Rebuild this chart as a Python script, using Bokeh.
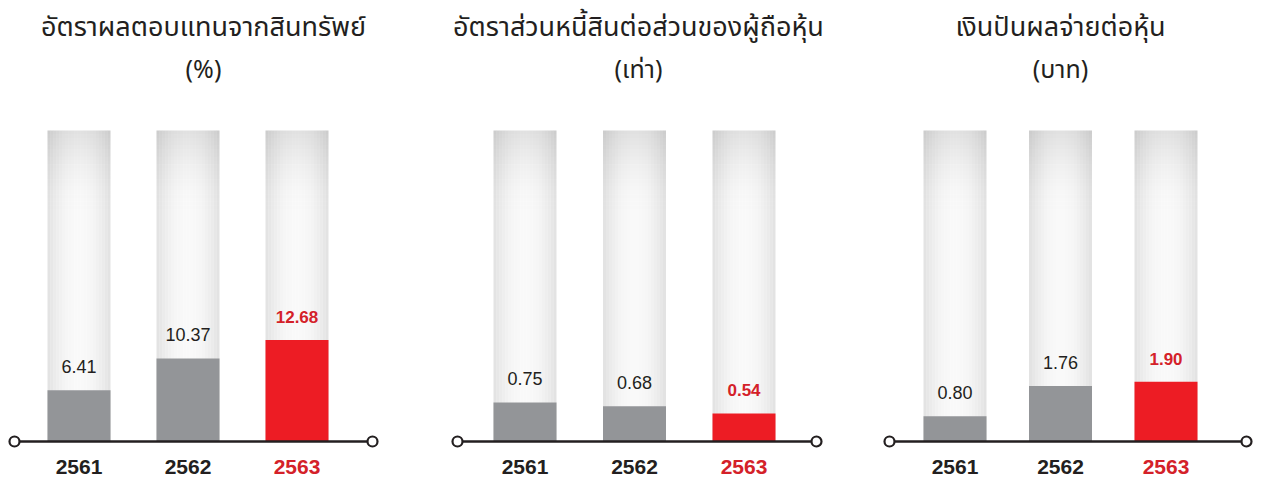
from bokeh.plotting import figure
from bokeh.layouts import row
from bokeh.models import Range1d, Label, ColumnDataSource
from bokeh.core.properties import value
from bokeh.embed import file_html
from bokeh.resources import INLINE

# ---------------- data ----------------
years = ["2561", "2562", "2563"]
roa_values = [6.41, 10.37, 12.68]
de_values = [0.75, 0.68, 0.54]
dps_values = [0.80, 1.76, 1.90]
title_line1 = ["อัตราผลตอบแทนจากสินทรัพย์",
               "อัตราส่วนหนี้สินต่อส่วนของผู้ถือหุ้น",
               "เงินปันผลจ่ายต่อหุ้น"]
title_line2 = ["(%)", "(เท่า)", "(บาท)"]
series = [roa_values, de_values, dps_values]

# ---------------- styling ----------------
GRAY = "#939598"
RED = "#ED1C24"
RED_TXT = "#D42129"
DARK = "#231F20"
THAI_FONT = "Noto Sans Thai, Noto Sans, sans-serif"
NUM_FONT = "Liberation Sans, Arial, sans-serif"
YEAR_FONT = "Liberation Sans Narrow, Liberation Sans, Arial, sans-serif"

H = 479          # figure height (px)
BASE = 38        # baseline distance from figure bottom (px)
TRACK = 311      # background column height (px)
BAR_PX = 63      # bar width (px)

layout = [
    dict(width=433, c0=78.5, step=109.0, ax=(14, 372), ppu=8.0, tc=203),
    dict(width=430, c0=91.5, step=109.5, ax=(24, 383), ppu=52.0, tc=205),
    dict(width=398, c0=91.5, step=105.5, ax=(26, 383), ppu=31.5, tc=197),
]


def make_panel(vals, t1, t2, L):
    step, ppu = L["step"], L["ppu"]
    x0 = -L["c0"] / step
    x1 = x0 + L["width"] / step
    y0 = -BASE / ppu
    y1 = y0 + H / ppu
    p = figure(width=L["width"], height=H, x_range=Range1d(x0, x1),
               y_range=Range1d(y0, y1), output_backend="svg",
               toolbar_location=None, min_border=0, outline_line_color=None)
    p.axis.visible = False
    p.grid.visible = False
    p.background_fill_color = "white"
    p.border_fill_color = "white"

    idx = list(range(len(years)))
    bw = BAR_PX / step
    top = TRACK / ppu

    # background track gradient (horizontal)
    NS = 21
    L_, R_, B_, T_, C_ = [], [], [], [], []
    for i in idx:
        for k in range(NS):
            d = ((k + 0.5) / NS - 0.5) * 2
            shade = int(round(249 - 24 * d * d))
            left = i - bw / 2 + k * bw / NS
            L_.append(left)
            R_.append(left + bw / NS * 1.08 if k < NS - 1 else left + bw / NS)
            B_.append(0)
            T_.append(top)
            C_.append("#%02x%02x%02x" % (shade, shade, shade))
    p.quad(left=L_, right=R_, bottom=B_, top=T_, fill_color=C_, line_color=None)

    # top shading (vertical)
    NB = 24
    band_px = 90
    L_, R_, B_, T_, A_ = [], [], [], [], []
    for i in idx:
        for k in range(NB):
            f = (k + 0.5) / NB
            a = 0.10 * (1 - f) ** 2
            L_.append(i - bw / 2)
            R_.append(i + bw / 2)
            T_.append(top - k * band_px / NB / ppu)
            B_.append(top - (k + 1) * band_px / NB / ppu)
            A_.append(a)
    p.quad(left=L_, right=R_, bottom=B_, top=T_, fill_color="black",
           fill_alpha=A_, line_color=None)

    colors = [GRAY] * (len(vals) - 1) + [RED]
    src = ColumnDataSource(dict(x=idx, top=vals, color=colors))
    p.vbar(x="x", top="top", bottom=0, width=bw, fill_color="color",
           line_color=None, source=src)

    # value labels
    n = len(vals)
    p.text(x=idx[:-1], y=vals[:-1], text=[f"{v:.2f}" for v in vals[:-1]],
           text_align="center", text_baseline="alphabetic", y_offset=-24,
           text_font=value(NUM_FONT), text_font_size="18px", text_color=DARK)
    p.text(x=idx[-1:], y=vals[-1:], text=[f"{v:.2f}" for v in vals[-1:]],
           text_align="center", text_baseline="alphabetic", y_offset=-23,
           text_font=value(NUM_FONT), text_font_size="17px",
           text_font_style="bold", text_color=RED_TXT)

    # axis line with circles
    axl = (L["ax"][0] - L["c0"]) / step
    axr = (L["ax"][1] - L["c0"]) / step
    p.line(x=[axl, axr], y=[0, 0], line_color=DARK, line_width=2.5)
    p.scatter(x=[axl, axr], y=[0, 0], size=10, marker="circle",
              fill_color="white", line_color=DARK, line_width=2.2)

    # year labels
    p.text(x=idx, y=[0] * n, text=years, text_align="center",
           text_baseline="alphabetic", y_offset=25,
           text_font=value(YEAR_FONT), text_font_size="21px",
           text_font_style="bold",
           text_color=[DARK] * (n - 1) + [RED_TXT])

    # titles
    p.add_layout(Label(x=L["tc"], y=H - 27, x_units="screen", y_units="screen",
                       text=t1, text_align="center", text_baseline="alphabetic",
                       text_font=THAI_FONT, text_font_size="27px",
                       text_color=DARK))
    p.add_layout(Label(x=L["tc"], y=H - 69, x_units="screen", y_units="screen",
                       text=t2, text_align="center", text_baseline="alphabetic",
                       text_font=THAI_FONT, text_font_size="25px",
                       text_color=DARK))
    return p


panels = [make_panel(v, a, b, L) for v, a, b, L in
          zip(series, title_line1, title_line2, layout)]
lay = row(*panels, spacing=0)

open("out.html", "w").write(file_html(lay, INLINE))
